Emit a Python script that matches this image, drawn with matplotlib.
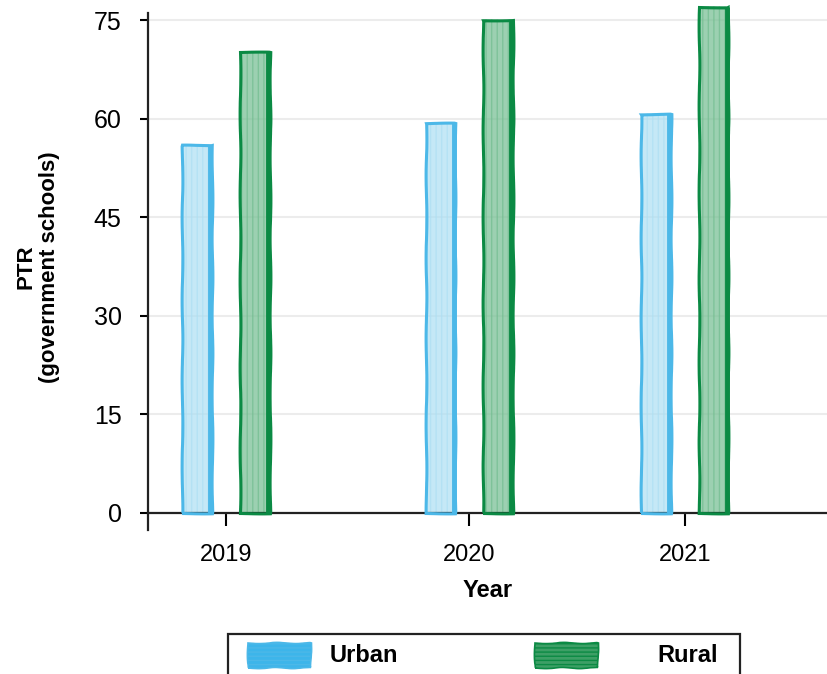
import matplotlib

matplotlib.use("Agg")
import matplotlib.pyplot as plt  # noqa: E402
import numpy as np  # noqa: E402
from matplotlib.patches import Rectangle  # noqa: E402

plt.rcParams["font.family"] = ["Liberation Sans", "DejaVu Sans"]
plt.rcParams["hatch.linewidth"] = 1.0

years = ["2019", "2020", "2021"]
urban = [56, 59.3, 60.7]
rural = [70.2, 75, 77]
yticks = [0, 15, 30, 45, 60, 75]

URBAN_FILL, URBAN_EDGE = "#addff3", "#4cb8e8"
RURAL_FILL, RURAL_EDGE = "#72bd90", "#0b8a44"

# group centres along the x axis (hand-placed, slightly uneven)
x = np.array([0, 1.06, 2])
w = 0.13
off = 0.125

fig = plt.figure(figsize=(8.27, 6.74), dpi=100)
ax = fig.add_axes([0.179, 0.2136, 0.821, 0.781])


def sketch_bars(xs, vals, fill, edge):
    # hatched body
    body = ax.bar(xs, vals, width=w, color=fill, alpha=0.7, edgecolor=fill,
                  linewidth=0, hatch="|||", zorder=2)
    for p in body:
        p.set_sketch_params(0.6, 60, 2)
    # outline
    outline = ax.bar(xs, vals, width=w, fill=False, edgecolor=edge,
                     linewidth=2.2, zorder=3, clip_on=False)
    for p in outline:
        p.set_sketch_params(0.4, 90, 2)
    # heavier stroke down the right edge
    ax.vlines(np.asarray(xs) + w / 2 - 0.008, 0, vals, color=edge,
              linewidth=3.5, zorder=3)


sketch_bars(x - off, urban, URBAN_FILL, URBAN_EDGE)
sketch_bars(x + off, rural, RURAL_FILL, RURAL_EDGE)

ax.set_xlim(-0.34, 2.62)
ax.set_ylim(-2.6, 77.5)

for s in ["top", "right"]:
    ax.spines[s].set_visible(False)
ax.spines["bottom"].set_position(("data", 0))
ax.spines["left"].set_bounds(-2.6, 76)
for s in ["left", "bottom"]:
    ax.spines[s].set_linewidth(1.6)
    ax.spines[s].set_color("#222222")

ax.set_yticks(yticks)
ax.set_yticklabels([str(v) for v in yticks])
ax.set_xticks(x)
ax.set_xticklabels(years)
ax.tick_params(axis="y", length=6, width=1.5, pad=13, labelsize=18)
ax.tick_params(axis="x", length=9, width=1.5, pad=13, labelsize=17)
ax.yaxis.grid(True, color="#ececec", linewidth=1.5)
ax.set_axisbelow(True)

ax.set_xlabel("Year", fontsize=17, fontweight="bold", labelpad=10)
ax.set_ylabel("PTR\n(government schools)", fontsize=16, fontweight="bold",
              labelpad=24)

# legend box along the bottom edge
fig.patches.append(Rectangle((228 / 827, -0.05), 512 / 827, 0.05 + 40 / 674,
                             transform=fig.transFigure, fill=False,
                             edgecolor="#222222", linewidth=1.6))
for sx, col, edge, label, tx in [(248, "#3db5ea", URBAN_EDGE, "Urban", 330),
                                 (535, "#3d9f66", RURAL_EDGE, "Rural", 657)]:
    sw = Rectangle((sx / 827, 6 / 674), 63 / 827, 25 / 674,
                   transform=fig.transFigure, facecolor=col, edgecolor=edge,
                   linewidth=1.2, hatch="----")
    sw.set_sketch_params(0.6, 40, 2)
    fig.patches.append(sw)
    fig.text(tx / 827, 18 / 674, label, fontsize=17, fontweight="bold",
             va="center")

fig.savefig("out.png", dpi=100)
